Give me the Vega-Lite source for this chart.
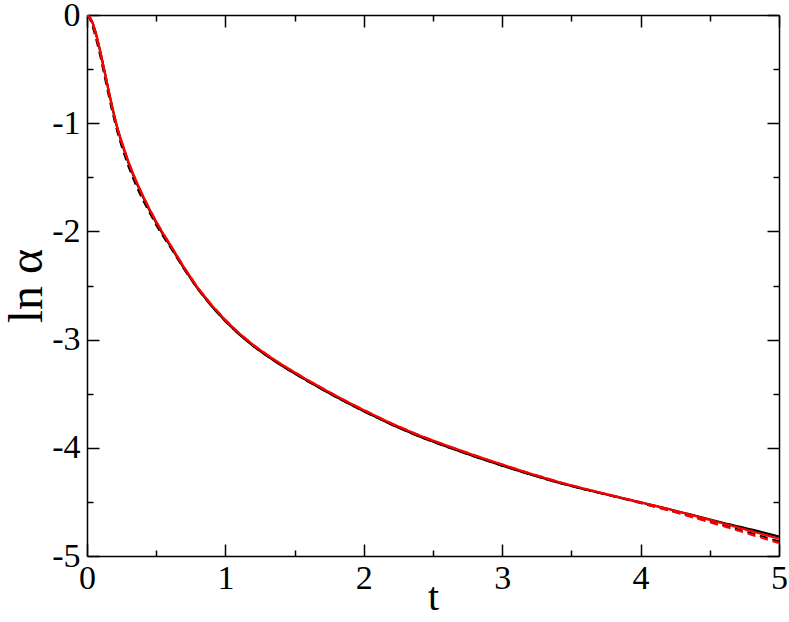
{
  "$schema": "https://vega.github.io/schema/vega-lite/v6.json",
  "width": 692,
  "height": 541,
  "autosize": {"type": "none"},
  "padding": {"left": 87, "top": 15, "right": 10, "bottom": 66},
  "background": "white",
  "config": {
    "view": {"stroke": null},
    "axis": {
      "labelFont": "Liberation Serif",
      "labelFontSize": 34,
      "labelColor": "black",
      "titleFont": "Liberation Serif",
      "titleFontSize": 40,
      "titleFontWeight": "normal",
      "titleColor": "black",
      "domainColor": "black",
      "domainWidth": 1.5,
      "tickColor": "black",
      "tickWidth": 1.5,
      "grid": false
    }
  },
  "datasets": {
    "curves": [
      {"s":"a","t":0,"v":0},{"s":"a","t":0.02,"v":-0.02},{"s":"a","t":0.04,"v":-0.07},{"s":"a","t":0.06,"v":-0.15},{"s":"a","t":0.08,"v":-0.25},{"s":"a","t":0.1,"v":-0.36},{"s":"a","t":0.12,"v":-0.48},{"s":"a","t":0.14,"v":-0.6},{"s":"a","t":0.16,"v":-0.72},{"s":"a","t":0.18,"v":-0.84},{"s":"a","t":0.2,"v":-0.95},{"s":"a","t":0.22,"v":-1.05},{"s":"a","t":0.25,"v":-1.18},{"s":"a","t":0.3,"v":-1.37},{"s":"a","t":0.35,"v":-1.53},{"s":"a","t":0.4,"v":-1.67},{"s":"a","t":0.45,"v":-1.8},{"s":"a","t":0.5,"v":-1.92},{"s":"a","t":0.55,"v":-2.03},{"s":"a","t":0.6,"v":-2.13},{"s":"a","t":0.7,"v":-2.34},{"s":"a","t":0.8,"v":-2.53},{"s":"a","t":0.9,"v":-2.69},{"s":"a","t":1.0,"v":-2.83},{"s":"a","t":1.1,"v":-2.952},{"s":"a","t":1.2,"v":-3.058},{"s":"a","t":1.3,"v":-3.15},{"s":"a","t":1.4,"v":-3.235},{"s":"a","t":1.5,"v":-3.313},{"s":"a","t":1.6,"v":-3.388},{"s":"a","t":1.7,"v":-3.46},{"s":"a","t":1.8,"v":-3.53},{"s":"a","t":1.9,"v":-3.597},{"s":"a","t":2.0,"v":-3.662},{"s":"a","t":2.2,"v":-3.785},{"s":"a","t":2.4,"v":-3.895},{"s":"a","t":2.6,"v":-3.99},{"s":"a","t":2.8,"v":-4.08},{"s":"a","t":3.0,"v":-4.165},{"s":"a","t":3.2,"v":-4.245},{"s":"a","t":3.4,"v":-4.32},{"s":"a","t":3.6,"v":-4.385},{"s":"a","t":3.8,"v":-4.445},{"s":"a","t":4.0,"v":-4.505},{"s":"a","t":4.2,"v":-4.565},{"s":"a","t":4.4,"v":-4.63},{"s":"a","t":4.6,"v":-4.695},{"s":"a","t":4.8,"v":-4.755},{"s":"a","t":5.0,"v":-4.82},
      {"s":"b","t":0,"v":0},{"s":"b","t":0.02,"v":-0.03},{"s":"b","t":0.04,"v":-0.1},{"s":"b","t":0.06,"v":-0.19},{"s":"b","t":0.08,"v":-0.29},{"s":"b","t":0.1,"v":-0.4},{"s":"b","t":0.12,"v":-0.52},{"s":"b","t":0.14,"v":-0.64},{"s":"b","t":0.16,"v":-0.76},{"s":"b","t":0.18,"v":-0.875},{"s":"b","t":0.2,"v":-0.98},{"s":"b","t":0.22,"v":-1.08},{"s":"b","t":0.25,"v":-1.21},{"s":"b","t":0.3,"v":-1.4},{"s":"b","t":0.35,"v":-1.56},{"s":"b","t":0.4,"v":-1.7},{"s":"b","t":0.45,"v":-1.82},{"s":"b","t":0.5,"v":-1.94},{"s":"b","t":0.55,"v":-2.045},{"s":"b","t":0.6,"v":-2.14},{"s":"b","t":0.7,"v":-2.345},{"s":"b","t":0.8,"v":-2.53},{"s":"b","t":0.9,"v":-2.69},{"s":"b","t":1.0,"v":-2.83},{"s":"b","t":1.1,"v":-2.952},{"s":"b","t":1.2,"v":-3.058},{"s":"b","t":1.3,"v":-3.15},{"s":"b","t":1.4,"v":-3.235},{"s":"b","t":1.5,"v":-3.313},{"s":"b","t":1.6,"v":-3.388},{"s":"b","t":1.7,"v":-3.46},{"s":"b","t":1.8,"v":-3.53},{"s":"b","t":1.9,"v":-3.597},{"s":"b","t":2.0,"v":-3.662},{"s":"b","t":2.2,"v":-3.785},{"s":"b","t":2.4,"v":-3.895},{"s":"b","t":2.6,"v":-3.99},{"s":"b","t":2.8,"v":-4.08},{"s":"b","t":3.0,"v":-4.165},{"s":"b","t":3.2,"v":-4.245},{"s":"b","t":3.4,"v":-4.32},{"s":"b","t":3.6,"v":-4.385},{"s":"b","t":3.8,"v":-4.447},{"s":"b","t":4.0,"v":-4.51},{"s":"b","t":4.2,"v":-4.575},{"s":"b","t":4.4,"v":-4.645},{"s":"b","t":4.6,"v":-4.715},{"s":"b","t":4.8,"v":-4.79},{"s":"b","t":5.0,"v":-4.865},
      {"s":"c","t":0,"v":0},{"s":"c","t":0.02,"v":-0.02},{"s":"c","t":0.04,"v":-0.08},{"s":"c","t":0.06,"v":-0.16},{"s":"c","t":0.08,"v":-0.26},{"s":"c","t":0.1,"v":-0.37},{"s":"c","t":0.12,"v":-0.49},{"s":"c","t":0.14,"v":-0.61},{"s":"c","t":0.16,"v":-0.73},{"s":"c","t":0.18,"v":-0.84},{"s":"c","t":0.2,"v":-0.95},{"s":"c","t":0.22,"v":-1.05},{"s":"c","t":0.25,"v":-1.17},{"s":"c","t":0.3,"v":-1.36},{"s":"c","t":0.35,"v":-1.52},{"s":"c","t":0.4,"v":-1.66},{"s":"c","t":0.45,"v":-1.79},{"s":"c","t":0.5,"v":-1.91},{"s":"c","t":0.55,"v":-2.02},{"s":"c","t":0.6,"v":-2.12},{"s":"c","t":0.7,"v":-2.33},{"s":"c","t":0.8,"v":-2.52},{"s":"c","t":0.9,"v":-2.68},{"s":"c","t":1.0,"v":-2.82},{"s":"c","t":1.1,"v":-2.942},{"s":"c","t":1.2,"v":-3.048},{"s":"c","t":1.3,"v":-3.14},{"s":"c","t":1.4,"v":-3.225},{"s":"c","t":1.5,"v":-3.303},{"s":"c","t":1.6,"v":-3.378},{"s":"c","t":1.7,"v":-3.45},{"s":"c","t":1.8,"v":-3.52},{"s":"c","t":1.9,"v":-3.587},{"s":"c","t":2.0,"v":-3.652},{"s":"c","t":2.2,"v":-3.775},{"s":"c","t":2.4,"v":-3.885},{"s":"c","t":2.6,"v":-3.98},{"s":"c","t":2.8,"v":-4.07},{"s":"c","t":3.0,"v":-4.155},{"s":"c","t":3.2,"v":-4.237},{"s":"c","t":3.4,"v":-4.313},{"s":"c","t":3.6,"v":-4.38},{"s":"c","t":3.8,"v":-4.444},{"s":"c","t":4.0,"v":-4.507},{"s":"c","t":4.2,"v":-4.577},{"s":"c","t":4.4,"v":-4.65},{"s":"c","t":4.6,"v":-4.725},{"s":"c","t":4.8,"v":-4.802},{"s":"c","t":5.0,"v":-4.88},
      {"s":"d","t":0,"v":0},{"s":"d","t":0.02,"v":-0.02},{"s":"d","t":0.04,"v":-0.07},{"s":"d","t":0.06,"v":-0.15},{"s":"d","t":0.08,"v":-0.25},{"s":"d","t":0.1,"v":-0.36},{"s":"d","t":0.12,"v":-0.48},{"s":"d","t":0.14,"v":-0.6},{"s":"d","t":0.16,"v":-0.72},{"s":"d","t":0.18,"v":-0.835},{"s":"d","t":0.2,"v":-0.945},{"s":"d","t":0.22,"v":-1.045},{"s":"d","t":0.25,"v":-1.17},{"s":"d","t":0.3,"v":-1.36},{"s":"d","t":0.35,"v":-1.52},{"s":"d","t":0.4,"v":-1.66},{"s":"d","t":0.45,"v":-1.79},{"s":"d","t":0.5,"v":-1.91},{"s":"d","t":0.55,"v":-2.02},{"s":"d","t":0.6,"v":-2.12},{"s":"d","t":0.7,"v":-2.33},{"s":"d","t":0.8,"v":-2.52},{"s":"d","t":0.9,"v":-2.68},{"s":"d","t":1.0,"v":-2.82},{"s":"d","t":1.1,"v":-2.942},{"s":"d","t":1.2,"v":-3.048},{"s":"d","t":1.3,"v":-3.14},{"s":"d","t":1.4,"v":-3.225},{"s":"d","t":1.5,"v":-3.303},{"s":"d","t":1.6,"v":-3.378},{"s":"d","t":1.7,"v":-3.45},{"s":"d","t":1.8,"v":-3.52},{"s":"d","t":1.9,"v":-3.587},{"s":"d","t":2.0,"v":-3.652},{"s":"d","t":2.2,"v":-3.775},{"s":"d","t":2.4,"v":-3.885},{"s":"d","t":2.6,"v":-3.98},{"s":"d","t":2.8,"v":-4.07},{"s":"d","t":3.0,"v":-4.155},{"s":"d","t":3.2,"v":-4.237},{"s":"d","t":3.4,"v":-4.313},{"s":"d","t":3.6,"v":-4.38},{"s":"d","t":3.8,"v":-4.442},{"s":"d","t":4.0,"v":-4.503},{"s":"d","t":4.2,"v":-4.565},{"s":"d","t":4.4,"v":-4.632},{"s":"d","t":4.6,"v":-4.7},{"s":"d","t":4.8,"v":-4.77},{"s":"d","t":5.0,"v":-4.84}
    ]
  },
  "data": {"name": "curves"},
  "resolve": {"axis": {"x": "independent", "y": "independent"}},
  "layer": [
    {
      "mark": {"type": "line", "strokeWidth": 2.2, "clip": true},
      "encoding": {
        "x": {"field": "t", "type": "quantitative", "scale": {"domain": [0, 5], "nice": false, "zero": false},
          "axis": {"orient": "bottom", "values": [0,1,2,3,4,5], "tickSize": -12, "labelPadding": 17, "domain": true, "title": "t", "titlePadding": -18, "labelFlush": false, "labelExpr": "replace(datum.label, '\u2212', '-')"}},
        "y": {"field": "v", "type": "quantitative", "scale": {"domain": [-5, 0], "nice": false, "zero": false},
          "axis": {"orient": "left", "values": [-5,-4,-3,-2,-1,0], "tickSize": -12, "labelPadding": 19, "domain": true, "title": "ln α", "titleFontSize": 48, "titlePadding": 0, "labelFlush": false, "labelExpr": "replace(datum.label, '\u2212', '-')"}},
        "color": {"field": "s", "type": "nominal", "scale": {"domain": ["a","b","c","d"], "range": ["#000000","#000000","#ff0000","#ff0000"]}, "legend": null},
        "strokeDash": {"field": "s", "type": "nominal", "scale": {"domain": ["a","b","c","d"], "range": [[1,0],[8,5],[8,5],[1,0]]}, "legend": null},
        "order": {"field": "t", "type": "quantitative"}
      }
    },
    {
      "mark": {"type": "line", "opacity": 0},
      "encoding": {
        "x": {"field": "t", "type": "quantitative", "axis": {"orient": "bottom", "values": [0.5,1.5,2.5,3.5,4.5], "tickSize": -6, "labels": false, "domain": false, "title": null}},
        "y": {"field": "v", "type": "quantitative", "axis": {"orient": "left", "values": [-4.5,-3.5,-2.5,-1.5,-0.5], "tickSize": -6, "labels": false, "domain": false, "title": null}}
      }
    },
    {
      "mark": {"type": "line", "opacity": 0},
      "encoding": {
        "x": {"field": "t", "type": "quantitative", "axis": {"orient": "top", "values": [0,1,2,3,4,5], "tickSize": -12, "labels": false, "domain": true, "title": null}},
        "y": {"field": "v", "type": "quantitative", "axis": {"orient": "right", "values": [-5,-4,-3,-2,-1,0], "tickSize": -12, "labels": false, "domain": true, "title": null}}
      }
    },
    {
      "mark": {"type": "line", "opacity": 0},
      "encoding": {
        "x": {"field": "t", "type": "quantitative", "axis": {"orient": "top", "values": [0.5,1.5,2.5,3.5,4.5], "tickSize": -6, "labels": false, "domain": false, "title": null}},
        "y": {"field": "v", "type": "quantitative", "axis": {"orient": "right", "values": [-4.5,-3.5,-2.5,-1.5,-0.5], "tickSize": -6, "labels": false, "domain": false, "title": null}}
      }
    }
  ]
}
